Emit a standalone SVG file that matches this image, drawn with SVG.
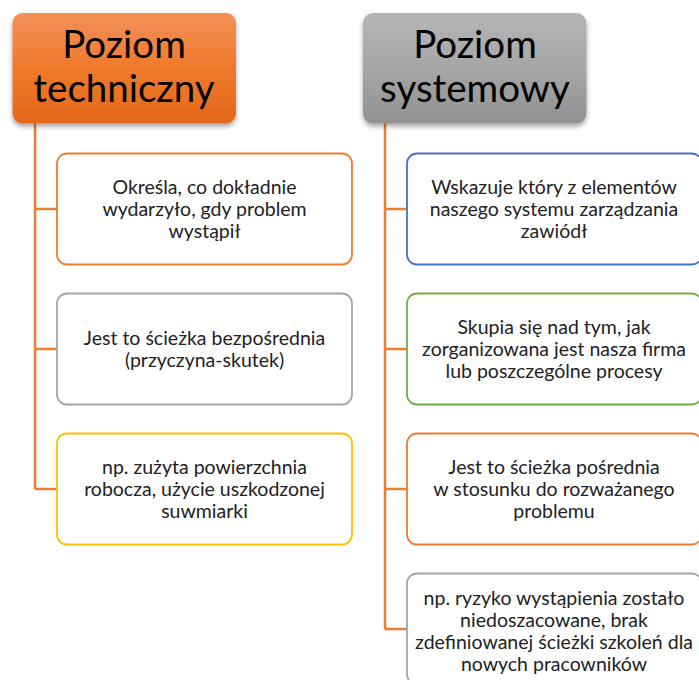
<svg xmlns="http://www.w3.org/2000/svg" width="699" height="680" viewBox="0 0 699 680">
  <defs>
    <linearGradient id="gOrange" x1="0" y1="0" x2="0" y2="1">
      <stop offset="0" stop-color="#F29058"/>
      <stop offset="0.5" stop-color="#F07A2C"/>
      <stop offset="1" stop-color="#E2671A"/>
    </linearGradient>
    <linearGradient id="gGray" x1="0" y1="0" x2="0" y2="1">
      <stop offset="0" stop-color="#B5B5B5"/>
      <stop offset="0.5" stop-color="#A6A6A6"/>
      <stop offset="1" stop-color="#919191"/>
    </linearGradient>
    <filter id="shadow" x="-10%" y="-10%" width="120%" height="130%">
      <feDropShadow dx="0" dy="3" stdDeviation="2.5" flood-color="#000" flood-opacity="0.35"/>
    </filter>
  </defs>
  <style>
    .head { font-family: Lato, "Open Sans", sans-serif; font-size: 38.5px; fill: #000; text-anchor: middle; }
    .txt { font-family: Lato, "Open Sans", sans-serif; font-size: 19.5px; fill: #222; text-anchor: middle; }
    .box { fill: #fff; stroke-width: 1.8; }
    .conn { fill: none; stroke: #ED7D31; stroke-width: 2.5; }
  </style>
  <rect width="699" height="680" fill="#fff"/>

  <g id="connectors">
    <path class="conn" d="M35 123 V489 M35 209 H57 M35 349 H57 M35 489 H57"/>
    <path class="conn" d="M385 123 V629 M385 209 H407 M385 349 H407 M385 489 H407 M385 629 H407"/>
  </g>

  <g id="head-tech">
    <rect x="12.5" y="13" width="223.5" height="110.5" rx="10" fill="url(#gOrange)" filter="url(#shadow)"/>
    <text class="head" x="124" y="58">Poziom</text>
    <text class="head" x="124" y="102">techniczny</text>
  </g>
  <g id="head-sys">
    <rect x="363" y="13" width="223.5" height="110.5" rx="10" fill="url(#gGray)" filter="url(#shadow)"/>
    <text class="head" x="475" y="58">Poziom</text>
    <text class="head" x="475" y="102">systemowy</text>
  </g>

  <g id="tech-1">
    <rect class="box" x="57" y="153.5" width="295" height="111" rx="10" stroke="#ED7D31"/>
    <text class="txt" x="204.5" y="194">Określa, co dokładnie</text>
    <text class="txt" x="204.5" y="216">wydarzyło, gdy problem</text>
    <text class="txt" x="204.5" y="238">wystąpił</text>
  </g>
  <g id="tech-2">
    <rect class="box" x="57" y="293.5" width="295" height="111" rx="10" stroke="#A5A5A5"/>
    <text class="txt" x="204.5" y="345">Jest to ścieżka bezpośrednia</text>
    <text class="txt" x="204.5" y="367">(przyczyna-skutek)</text>
  </g>
  <g id="tech-3">
    <rect class="box" x="57" y="433.5" width="295" height="111" rx="10" stroke="#FFC000"/>
    <text class="txt" x="204.5" y="474">np. zużyta powierzchnia</text>
    <text class="txt" x="204.5" y="496">robocza, użycie uszkodzonej</text>
    <text class="txt" x="204.5" y="518">suwmiarki</text>
  </g>

  <g id="sys-1">
    <rect class="box" x="407" y="153.5" width="295" height="111" rx="10" stroke="#4472C4"/>
    <text class="txt" x="554" y="194">Wskazuje który z elementów</text>
    <text class="txt" x="554" y="216">naszego systemu zarządzania</text>
    <text class="txt" x="554" y="238">zawiódł</text>
  </g>
  <g id="sys-2">
    <rect class="box" x="407" y="293.5" width="295" height="111" rx="10" stroke="#70AD47"/>
    <text class="txt" x="554" y="334">Skupia się nad tym, jak</text>
    <text class="txt" x="554" y="356">zorganizowana jest nasza firma</text>
    <text class="txt" x="554" y="378">lub poszczególne procesy</text>
  </g>
  <g id="sys-3">
    <rect class="box" x="407" y="433.5" width="295" height="111" rx="10" stroke="#ED7D31"/>
    <text class="txt" x="554" y="474">Jest to ścieżka pośrednia</text>
    <text class="txt" x="554" y="496">w stosunku do rozważanego</text>
    <text class="txt" x="554" y="518">problemu</text>
  </g>
  <g id="sys-4">
    <rect class="box" x="407" y="573.5" width="295" height="111" rx="10" stroke="#A5A5A5"/>
    <text class="txt" x="554" y="605">np. ryzyko wystąpienia zostało</text>
    <text class="txt" x="554" y="627">niedoszacowane, brak</text>
    <text class="txt" x="554" y="649">zdefiniowanej ścieżki szkoleń dla</text>
    <text class="txt" x="554" y="671">nowych pracowników</text>
  </g>
</svg>
